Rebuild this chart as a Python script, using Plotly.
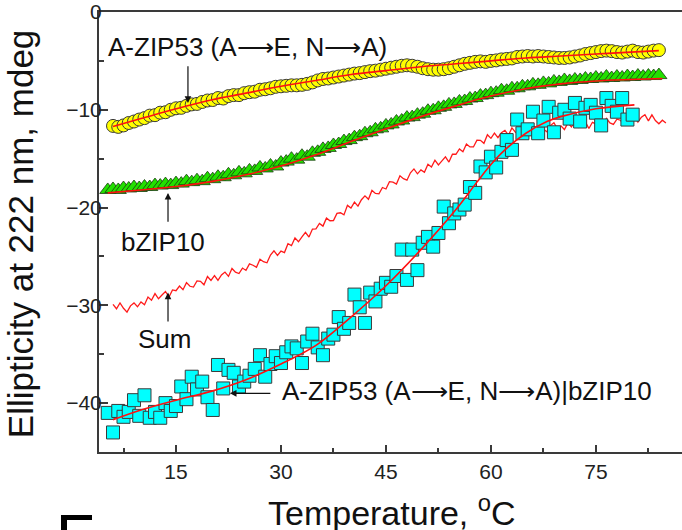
import plotly.graph_objects as go

# ---------------- data ----------------
T_scan = [5.25, 6.0, 6.75, 7.5, 8.25, 9.0, 9.75, 10.5, 11.25, 12.0,
          12.75, 13.5, 14.25, 15.0, 15.75, 16.5, 17.25, 18.0, 18.75, 19.5,
          20.25, 21.0, 21.75, 22.5, 23.25, 24.0, 24.75, 25.5, 26.25, 27.0,
          27.75, 28.5, 29.25, 30.0, 30.75, 31.5, 32.25, 33.0, 33.75, 34.5,
          35.25, 36.0, 36.75, 37.5, 38.25, 39.0, 39.75, 40.5, 41.25, 42.0,
          42.75, 43.5, 44.25, 45.0, 45.75, 46.5, 47.25, 48.0, 48.75, 49.5,
          50.25, 51.0, 51.75, 52.5, 53.25, 54.0, 54.75, 55.5, 56.25, 57.0,
          57.75, 58.5, 59.25, 60.0, 60.75, 61.5, 62.25, 63.0, 63.75, 64.5,
          65.25, 66.0, 66.75, 67.5, 68.25, 69.0, 69.75, 70.5, 71.25, 72.0,
          72.75, 73.5, 74.25, 75.0, 75.75, 76.5, 77.25, 78.0, 78.75, 79.5,
          80.25, 81.0, 81.75, 82.5, 83.25, 84.0]

# A-ZIP53 (A->E, N->A) homodimer, yellow circles (T_scan[1:])
azip53 = [-11.65, -11.75, -11.6, -11.35, -11.2, -11.0, -10.85, -10.6, -10.55, -10.3,
          -10.25, -10.0, -9.85, -9.8, -9.6, -9.45, -9.4, -9.2, -9.05, -9.0,
          -8.8, -8.85, -8.6, -8.5, -8.5, -8.3, -8.2, -8.15, -7.95, -7.9,
          -7.8, -7.65, -7.6, -7.55, -7.5, -7.5, -7.45, -7.35, -7.2, -7.0,
          -6.85, -6.8, -6.7, -6.6, -6.5, -6.4, -6.3, -6.25, -6.15, -6.05,
          -6.0, -5.9, -5.8, -5.7, -5.6, -5.5, -5.45, -5.5, -5.6, -5.75,
          -5.85, -5.9, -5.9, -5.85, -5.75, -5.6, -5.45, -5.3, -5.2, -5.1,
          -5.05, -5.1, -5.0, -4.95, -4.85, -4.8, -4.75, -4.6, -4.55, -4.5,
          -4.55, -4.5, -4.55, -4.6, -4.65, -4.7, -4.7, -4.65, -4.55, -4.45,
          -4.3, -4.2, -4.1, -4.0, -3.95, -4.0, -4.1, -4.15, -4.05, -3.95,
          -4.1, -4.15, -4.05, -3.95, -3.9]

# bZIP10 homodimer, green triangles (T_scan)
bzip10 = [-18.2, -18.1, -18.2, -18.0, -18.05, -17.9, -18.0, -17.85, -17.9, -17.7,
          -17.75, -17.6, -17.7, -17.5, -17.55, -17.3, -17.4, -17.2, -17.3, -17.0,
          -17.1, -16.85, -16.9, -16.6, -16.7, -16.4, -16.5, -16.2, -16.25, -15.9,
          -16.0, -15.7, -15.8, -15.4, -15.3, -15.0, -15.1, -14.7, -14.8, -14.4,
          -14.3, -14.0, -13.9, -13.6, -13.5, -13.2, -13.1, -12.8, -12.7, -12.4,
          -12.3, -12.0, -11.9, -11.6, -11.5, -11.2, -11.1, -10.8, -10.75, -10.5,
          -10.4, -10.1, -10.05, -9.8, -9.7, -9.45, -9.4, -9.15, -9.1, -8.85,
          -8.8, -8.55, -8.5, -8.3, -8.25, -8.0, -8.05, -7.8, -7.8, -7.6,
          -7.6, -7.4, -7.45, -7.25, -7.3, -7.1, -7.15, -6.95, -7.05, -6.9,
          -6.95, -6.8, -6.85, -6.7, -6.8, -6.6, -6.75, -6.6, -6.7, -6.55,
          -6.65, -6.5, -6.6, -6.5, -6.55, -6.45]

# A-ZIP53 (A->E, N->A)|bZIP10 heterodimer, cyan squares (T_scan[:101])
hetero = [-41.0, -43.0, -40.8, -41.4, -40.9, -39.7, -41.3, -39.2, -41.5, -40.9,
          -41.5, -40.0, -40.8, -40.3, -38.3, -39.6, -37.3, -38.6, -37.8, -39.4,
          -40.7, -36.1, -38.5, -36.6, -36.9, -38.3, -37.8, -37.2, -36.5, -35.1,
          -37.3, -36.0, -35.2, -35.9, -34.8, -34.2, -34.4, -35.9, -33.7, -32.9,
          -34.3, -35.1, -33.4, -33.0, -31.2, -32.4, -31.8, -28.9, -30.2, -31.8,
          -28.7, -29.6, -28.3, -27.7, -28.1, -27.0, -24.3, -27.4, -24.3, -26.4,
          -23.6, -23.0, -24.0, -22.6, -19.9, -21.6, -20.6, -20.2, -19.7, -17.9,
          -18.5, -15.8, -16.4, -14.8, -15.9, -14.3, -13.1, -14.1, -11.0, -12.4,
          -12.0, -10.2, -12.4, -11.1, -9.7, -12.3, -10.3, -10.0, -10.9, -9.3,
          -11.2, -9.8, -9.5, -10.3, -11.6, -8.8, -9.6, -10.2, -8.8, -11.0,
          -10.5]

# Sum of the two homodimer curves (noisy red line)
T_sum = [6.0, 6.5, 7.0, 7.5, 8.0, 8.5, 9.0, 9.5, 10.0, 10.5, 11.0, 11.5, 12.0, 12.5,
         13.0, 13.5, 14.0, 14.5, 15.0, 15.5, 16.0, 16.5, 17.0, 17.5, 18.0, 18.5, 19.0,
         19.5, 20.0, 20.5, 21.0, 21.5, 22.0, 22.5, 23.0, 23.5, 24.0, 24.5, 25.0, 25.5,
         26.0, 26.5, 27.0, 27.5, 28.0, 28.5, 29.0, 29.5, 30.0, 30.5, 31.0, 31.5, 32.0,
         32.5, 33.0, 33.5, 34.0, 34.5, 35.0, 35.5, 36.0, 36.5, 37.0, 37.5, 38.0, 38.5,
         39.0, 39.5, 40.0, 40.5, 41.0, 41.5, 42.0, 42.5, 43.0, 43.5, 44.0, 44.5, 45.0,
         45.5, 46.0, 46.5, 47.0, 47.5, 48.0, 48.5, 49.0, 49.5, 50.0, 50.5, 51.0, 51.5,
         52.0, 52.5, 53.0, 53.5, 54.0, 54.5, 55.0, 55.5, 56.0, 56.5, 57.0, 57.5, 58.0,
         58.5, 59.0, 59.5, 60.0, 60.5, 61.0, 61.5, 62.0, 62.5, 63.0, 63.5, 64.0, 64.5,
         65.0, 65.5, 66.0, 66.5, 67.0, 67.5, 68.0, 68.5, 69.0, 69.5, 70.0, 70.5, 71.0,
         71.5, 72.0, 72.5, 73.0, 73.5, 74.0, 74.5, 75.0, 75.5, 76.0, 76.5, 77.0, 77.5,
         78.0, 78.5, 79.0, 79.5, 80.0, 80.5, 81.0, 81.5, 82.0, 82.5, 83.0, 83.5, 84.0,
         84.5, 85.0]
sum_curve = [-29.9, -30.35, -29.75, -30.3, -30.7, -30.05, -29.75, -30.15, -29.65, -29.93,
             -29.15, -29.48, -28.8, -29.33, -28.95, -28.58, -29.15, -28.43, -28.5, -28.03,
             -28.4, -27.68, -28.05, -28.13, -27.5, -27.55, -27.9, -27.05, -27.45, -26.95,
             -27.45, -26.9, -26.6, -27.04, -26.23, -26.61, -26.75, -26.19, -26.43, -25.76,
             -25.9, -26.11, -25.28, -25.54, -25.65, -24.86, -24.43, -24.89, -24.45, -24.6,
             -23.7, -23.9, -23.1, -23.5, -23.0, -22.53, -23.02, -22.2, -22.18, -21.62,
             -21.9, -21.08, -21.35, -21.33, -20.6, -20.53, -20.75, -19.78, -20.05, -19.45,
             -19.85, -19.2, -18.8, -19.15, -18.25, -18.55, -18.6, -17.95, -18.1, -17.35,
             -17.4, -17.6, -16.75, -17.05, -17.2, -16.45, -16.05, -16.55, -16.15, -16.39,
             -15.58, -15.86, -15.15, -15.64, -15.23, -14.81, -15.35, -14.55, -14.55, -14.0,
             -14.3, -13.5, -13.8, -13.8, -13.1, -13.12, -13.43, -12.55, -12.92, -12.38,
             -12.85, -12.35, -12.1, -12.6, -11.85, -12.3, -12.5, -12.0, -12.3, -11.71,
             -11.92, -12.28, -11.59, -12.0, -12.26, -11.62, -11.33, -11.94, -11.65, -12.02,
             -11.34, -11.76, -11.18, -11.8, -11.52, -11.24, -11.91, -11.28, -11.45, -11.06,
             -11.52, -10.88, -11.34, -11.5, -10.96, -11.07, -11.48, -10.69, -11.15, -10.7,
             -11.25, -10.75, -10.5, -11.13, -10.52, -11.1, -11.43, -11.07, -11.35]

# fitted curves (red)
T_fit_azip = [6, 10, 15, 20, 25, 30, 35, 40, 45, 50, 55, 60, 65, 70, 75, 80, 84]
fit_azip = [-11.7, -10.9, -9.9, -9.0, -8.3, -7.6, -7.0, -6.4, -6.0, -5.6, -5.3, -5.0,
            -4.7, -4.5, -4.3, -4.1, -3.95]
T_fit_bzip = [5.25, 10, 15, 20, 25, 30, 35, 40, 45, 50, 55, 60, 65, 70, 75, 80, 84.5]
fit_bzip = [-18.5, -18.2, -17.85, -17.35, -16.65, -15.75, -14.6, -13.25, -11.95, -10.7,
            -9.6, -8.6, -7.85, -7.35, -7.05, -6.9, -6.8]
T_fit_het = [6, 10, 15, 20, 25, 30, 35, 40, 45, 50, 55, 58, 60, 62, 65, 68, 70, 75, 80.5]
fit_het = [-41.7, -40.7, -39.7, -38.8, -37.6, -36.0, -34.1, -31.2, -28.0, -24.3, -20.2,
           -17.4, -15.6, -14.1, -12.4, -11.2, -10.7, -9.9, -9.5]

x_ticks = [15, 30, 45, 60, 75]
x_minor = [7.5, 22.5, 37.5, 52.5, 67.5, 82.5]
y_ticks = [0, -10, -20, -30, -40]
y_ticktext = ["0", "\u221210", "\u221220", "\u221230", "\u221240"]
y_minor = [-5, -15, -25, -35]

label_top = "A-ZIP53 (A⟶E, N⟶A)"
label_b = "bZIP10"
label_sum = "Sum"
label_het = "A-ZIP53 (A⟶E, N⟶A)|bZIP10"

FONT = "Liberation Sans, Arial, sans-serif"
EDGE = "#3a3a3a"

fig = go.Figure()

fig.add_trace(go.Scatter(x=T_sum, y=sum_curve, mode="lines",
                         line=dict(color="#ff1a1a", width=1.3), hoverinfo="skip"))
fig.add_trace(go.Scatter(x=T_scan[1:], y=azip53, mode="markers",
                         marker=dict(symbol="circle", size=13, color="#ffff00",
                                     line=dict(color=EDGE, width=1))))
fig.add_trace(go.Scatter(x=T_scan, y=bzip10, mode="markers",
                         marker=dict(symbol="triangle-up", size=14, color="#22e000",
                                     line=dict(color="#1a3a10", width=0.8))))
fig.add_trace(go.Scatter(x=T_scan[:101], y=hetero, mode="markers",
                         marker=dict(symbol="square", size=13, color="#00ffff",
                                     line=dict(color=EDGE, width=1))))
for tx, ty in [(T_fit_azip, fit_azip), (T_fit_bzip, fit_bzip), (T_fit_het, fit_het)]:
    fig.add_trace(go.Scatter(x=tx, y=ty, mode="lines", line_shape="spline",
                             line=dict(color="#ff1010", width=1.6), hoverinfo="skip"))

tfont = dict(family=FONT, size=26, color="#111111")
fig.add_annotation(x=5.0, y=-3.6, text=label_top, showarrow=False, xanchor="left",
                   yanchor="middle", font=tfont)
fig.add_annotation(x=13.2, y=-23.5, text=label_b, showarrow=False, font=tfont)
fig.add_annotation(x=13.4, y=-33.4, text=label_sum, showarrow=False, font=tfont)
fig.add_annotation(x=29.8, y=-38.8, text=label_het, showarrow=False, xanchor="left",
                   yanchor="middle", font=tfont)

arrows = [(16.71, -9.3, 16.71, -5.4), (13.86, -18.5, 13.86, -21.6),
          (13.86, -28.7, 13.86, -31.8), (22.7, -39.0, 28.7, -39.0)]
for x0, y0, x1, y1 in arrows:
    fig.add_annotation(x=x0, y=y0, ax=x1, ay=y1, axref="x", ayref="y", text="",
                       showarrow=True, arrowhead=2, arrowsize=1.1, arrowwidth=1.2,
                       arrowcolor="#111111", standoff=0, startstandoff=0)

# axis titles
fig.add_annotation(xref="paper", yref="paper", x=0.5026, y=0, yshift=-58,
                   xanchor="center", yanchor="middle",
                   text="Temperature, <sup>o</sup>C", showarrow=False,
                   font=dict(family=FONT, size=34, color="#111111"))
fig.add_annotation(xref="paper", yref="paper", x=0, y=0.495, xshift=-79,
                   xanchor="center", yanchor="middle",
                   text="Ellipticity at 222 nm, mdeg", textangle=-90, showarrow=False,
                   font=dict(family=FONT, size=35, color="#111111"))

# cropped frame fragment in the lower-left corner
fig.add_shape(type="rect", xref="paper", yref="paper", x0=-0.0652, x1=-0.012,
              y0=-0.1545, y1=-0.1432, fillcolor="black", line_width=0)
fig.add_shape(type="rect", xref="paper", yref="paper", x0=-0.0652, x1=-0.0549,
              y0=-0.19, y1=-0.1432, fillcolor="black", line_width=0)

fig.update_layout(
    width=682, height=530, margin=dict(l=99, r=0, t=12, b=78),
    paper_bgcolor="white", plot_bgcolor="white", showlegend=False,
    xaxis=dict(range=[4, 87.3], showline=True, linewidth=2, linecolor=EDGE, mirror=True,
               ticks="inside", ticklen=7, tickwidth=1.5, tickcolor=EDGE,
               tickvals=x_ticks, showgrid=False, zeroline=False,
               tickfont=dict(family=FONT, size=21, color="#222222"),
               minor=dict(tickmode="array", tickvals=x_minor, ticks="inside",
                          ticklen=4, tickwidth=1.5, tickcolor=EDGE, showgrid=False)),
    yaxis=dict(range=[-45, 0], showline=True, linewidth=2, linecolor=EDGE, mirror=False,
               ticks="inside", ticklen=9, tickwidth=1.5, tickcolor=EDGE,
               tickvals=y_ticks, ticktext=y_ticktext, showgrid=False, zeroline=False,
               ticklabelstandoff=-9, ticklabeloverflow="allow",
               tickfont=dict(family=FONT, size=21, color="#222222"),
               minor=dict(tickmode="array", tickvals=y_minor, ticks="inside",
                          ticklen=5, tickwidth=1.5, tickcolor=EDGE, showgrid=False)),
)

# remove the default page margin so the figure sits at the window's top-left corner
fig.write_html("out.html", config={"displayModeBar": False},
               post_script="document.body.style.margin='0';document.body.style.overflow='hidden';")
